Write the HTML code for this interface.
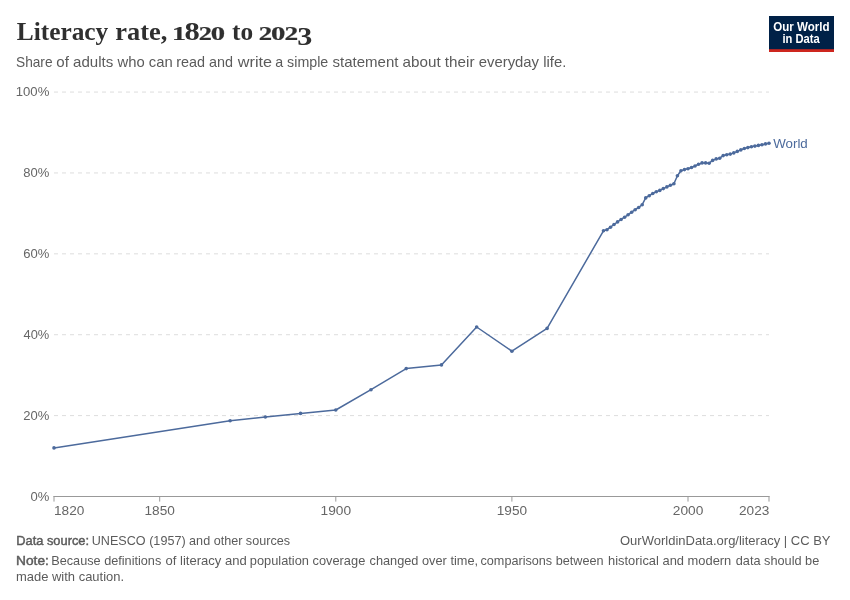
<!DOCTYPE html>
<html lang="en"><head><meta charset="utf-8"><title>Literacy rate, 1820 to 2023</title>
<style>
html,body{margin:0;padding:0;background:#fff;}
svg{display:block;font-family:"Liberation Sans",sans-serif;}
.title{font-family:"Liberation Serif",serif;font-weight:bold;font-size:26px;fill:#2f2f2f;}
.os{font-size:18.2px;stroke:#2f2f2f;stroke-width:0.2px;}
.sub{font-size:14.3px;fill:#5b5b5b;}
.ax text{font-size:13.6px;fill:#666;}
.world{font-size:13.2px;fill:#4c6a9c;}
.foot{font-size:12.7px;fill:#5b5b5b;}
.b{stroke:#5b5b5b;stroke-width:0.45px;}
.logo text{font-size:12.2px;font-weight:bold;fill:#fff;}
</style></head><body>
<svg width="850" height="600" viewBox="0 0 850 600">
<rect width="850" height="600" fill="#fff"/>
<text class="title" y="40.1"><tspan x="16.75" textLength="91.51" lengthAdjust="spacingAndGlyphs">Literacy</tspan> <tspan x="115.25" textLength="52.06" lengthAdjust="spacingAndGlyphs">rate,</tspan> <tspan class="os" x="172.0" textLength="13.89" lengthAdjust="spacingAndGlyphs">1</tspan><tspan x="184.5" textLength="15.27" lengthAdjust="spacingAndGlyphs">8</tspan><tspan class="os" x="198.75" textLength="13.14" lengthAdjust="spacingAndGlyphs">2</tspan><tspan class="os" x="210.75" textLength="14.34" lengthAdjust="spacingAndGlyphs">0</tspan> <tspan x="232.0" textLength="21.1" lengthAdjust="spacingAndGlyphs">to</tspan> <tspan class="os" x="258.75" textLength="13.38" lengthAdjust="spacingAndGlyphs">2</tspan><tspan class="os" x="271.0" textLength="14.35" lengthAdjust="spacingAndGlyphs">0</tspan><tspan class="os" x="284.5" textLength="13.69" lengthAdjust="spacingAndGlyphs">2</tspan><tspan x="297.25" y="45.4" textLength="15.07" lengthAdjust="spacingAndGlyphs">3</tspan></text>
<text class="sub" y="66.6"><tspan x="16.0" textLength="36.55" lengthAdjust="spacingAndGlyphs">Share</tspan> <tspan x="56.25" textLength="57.02" lengthAdjust="spacingAndGlyphs">of adults</tspan> <tspan x="117.5" textLength="55.27" lengthAdjust="spacingAndGlyphs">who can</tspan> <tspan x="176.25" textLength="56.83" lengthAdjust="spacingAndGlyphs">read and</tspan> <tspan x="237.75" textLength="34.27" lengthAdjust="spacingAndGlyphs">write</tspan> <tspan x="275.25" textLength="53.03" lengthAdjust="spacingAndGlyphs">a simple</tspan> <tspan x="332.5" textLength="66.0" lengthAdjust="spacingAndGlyphs">statement</tspan> <tspan x="402.5" textLength="72.01" lengthAdjust="spacingAndGlyphs">about their</tspan> <tspan x="478.75" textLength="87.55" lengthAdjust="spacingAndGlyphs">everyday life.</tspan></text>
<g class="logo">
<rect x="769" y="16" width="65" height="36" fill="#002147"/>
<rect x="769" y="49.2" width="65" height="2.8" fill="#ce261e"/>
<text x="773.25" y="31.3" textLength="56.28" lengthAdjust="spacingAndGlyphs">Our World</text>
<text x="782.5" y="43.3" textLength="37.27" lengthAdjust="spacingAndGlyphs">in Data</text>
</g>
<g stroke="#ddd" stroke-width="1" stroke-dasharray="4,4" fill="none"><line x1="54" x2="769" y1="415.61" y2="415.61"/><line x1="54" x2="769" y1="334.72" y2="334.72"/><line x1="54" x2="769" y1="253.83" y2="253.83"/><line x1="54" x2="769" y1="172.94" y2="172.94"/><line x1="54" x2="769" y1="92.05" y2="92.05"/></g>
<g stroke="#999" stroke-width="1" fill="none"><line x1="53.5" x2="769.5" y1="496.5" y2="496.5"/><line x1="54.0" x2="54.0" y1="496" y2="501.6"/><line x1="159.7" x2="159.7" y1="496" y2="501.6"/><line x1="335.8" x2="335.8" y1="496" y2="501.6"/><line x1="511.9" x2="511.9" y1="496" y2="501.6"/><line x1="688.0" x2="688.0" y1="496" y2="501.6"/><line x1="769.0" x2="769.0" y1="496" y2="501.6"/></g>
<g class="ax">
<text x="15.75" y="96.2" textLength="33.58" lengthAdjust="spacingAndGlyphs">100%</text>
<text x="23.25" y="177.1" textLength="26.04" lengthAdjust="spacingAndGlyphs">80%</text>
<text x="23.25" y="258.0" textLength="26.05" lengthAdjust="spacingAndGlyphs">60%</text>
<text x="23.5" y="338.9" textLength="25.77" lengthAdjust="spacingAndGlyphs">40%</text>
<text x="23.25" y="419.8" textLength="26.05" lengthAdjust="spacingAndGlyphs">20%</text>
<text x="30.5" y="500.7" textLength="18.81" lengthAdjust="spacingAndGlyphs">0%</text>
<text x="54.0" y="514.9" textLength="30.32" lengthAdjust="spacingAndGlyphs">1820</text>
<text x="144.5" y="514.9" textLength="30.33" lengthAdjust="spacingAndGlyphs">1850</text>
<text x="320.5" y="514.9" textLength="30.58" lengthAdjust="spacingAndGlyphs">1900</text>
<text x="496.75" y="514.9" textLength="30.33" lengthAdjust="spacingAndGlyphs">1950</text>
<text x="672.75" y="514.9" textLength="30.56" lengthAdjust="spacingAndGlyphs">2000</text>
<text x="739.0" y="514.9" textLength="30.31" lengthAdjust="spacingAndGlyphs">2023</text>
</g>
<path d="M54.0,447.9 L230.11,420.8 L265.33,417.0 L300.55,413.4 L335.77,410.0 L371.0,389.7 L406.22,368.6 L441.44,364.9 L476.66,327.0 L511.88,351.2 L547.1,328.4 L603.46,230.8 L606.98,229.7 L610.5,227.2 L614.02,224.5 L617.55,221.9 L621.07,219.5 L624.59,217.2 L628.11,214.8 L631.64,212.2 L635.16,209.7 L638.68,207.5 L642.2,204.7 L645.72,197.9 L649.25,195.7 L652.77,193.5 L656.29,191.7 L659.81,190.4 L663.33,188.6 L666.86,186.9 L670.38,185.3 L673.9,183.7 L677.42,175.7 L680.95,170.8 L684.47,169.6 L687.99,168.7 L691.51,167.5 L695.03,166.0 L698.56,164.3 L702.08,162.9 L705.6,162.9 L709.12,163.2 L712.65,160.4 L716.17,158.9 L719.69,158.2 L723.21,155.6 L726.73,154.7 L730.26,154.1 L733.78,152.9 L737.3,151.4 L740.82,149.9 L744.34,148.5 L747.87,147.6 L751.39,146.8 L754.91,146.1 L758.43,145.4 L761.96,144.7 L765.48,143.9 L769.0,143.2" fill="none" stroke="#4c6a9c" stroke-width="1.5" stroke-linejoin="round" stroke-linecap="round"/>
<g fill="#4c6a9c"><circle cx="54.0" cy="447.9" r="1.8"/><circle cx="230.11" cy="420.8" r="1.8"/><circle cx="265.33" cy="417.0" r="1.8"/><circle cx="300.55" cy="413.4" r="1.8"/><circle cx="335.77" cy="410.0" r="1.8"/><circle cx="371.0" cy="389.7" r="1.8"/><circle cx="406.22" cy="368.6" r="1.8"/><circle cx="441.44" cy="364.9" r="1.8"/><circle cx="476.66" cy="327.0" r="1.8"/><circle cx="511.88" cy="351.2" r="1.8"/><circle cx="547.1" cy="328.4" r="1.8"/><circle cx="603.46" cy="230.8" r="1.8"/><circle cx="606.98" cy="229.7" r="1.8"/><circle cx="610.5" cy="227.2" r="1.8"/><circle cx="614.02" cy="224.5" r="1.8"/><circle cx="617.55" cy="221.9" r="1.8"/><circle cx="621.07" cy="219.5" r="1.8"/><circle cx="624.59" cy="217.2" r="1.8"/><circle cx="628.11" cy="214.8" r="1.8"/><circle cx="631.64" cy="212.2" r="1.8"/><circle cx="635.16" cy="209.7" r="1.8"/><circle cx="638.68" cy="207.5" r="1.8"/><circle cx="642.2" cy="204.7" r="1.8"/><circle cx="645.72" cy="197.9" r="1.8"/><circle cx="649.25" cy="195.7" r="1.8"/><circle cx="652.77" cy="193.5" r="1.8"/><circle cx="656.29" cy="191.7" r="1.8"/><circle cx="659.81" cy="190.4" r="1.8"/><circle cx="663.33" cy="188.6" r="1.8"/><circle cx="666.86" cy="186.9" r="1.8"/><circle cx="670.38" cy="185.3" r="1.8"/><circle cx="673.9" cy="183.7" r="1.8"/><circle cx="677.42" cy="175.7" r="1.8"/><circle cx="680.95" cy="170.8" r="1.8"/><circle cx="684.47" cy="169.6" r="1.8"/><circle cx="687.99" cy="168.7" r="1.8"/><circle cx="691.51" cy="167.5" r="1.8"/><circle cx="695.03" cy="166.0" r="1.8"/><circle cx="698.56" cy="164.3" r="1.8"/><circle cx="702.08" cy="162.9" r="1.8"/><circle cx="705.6" cy="162.9" r="1.8"/><circle cx="709.12" cy="163.2" r="1.8"/><circle cx="712.65" cy="160.4" r="1.8"/><circle cx="716.17" cy="158.9" r="1.8"/><circle cx="719.69" cy="158.2" r="1.8"/><circle cx="723.21" cy="155.6" r="1.8"/><circle cx="726.73" cy="154.7" r="1.8"/><circle cx="730.26" cy="154.1" r="1.8"/><circle cx="733.78" cy="152.9" r="1.8"/><circle cx="737.3" cy="151.4" r="1.8"/><circle cx="740.82" cy="149.9" r="1.8"/><circle cx="744.34" cy="148.5" r="1.8"/><circle cx="747.87" cy="147.6" r="1.8"/><circle cx="751.39" cy="146.8" r="1.8"/><circle cx="754.91" cy="146.1" r="1.8"/><circle cx="758.43" cy="145.4" r="1.8"/><circle cx="761.96" cy="144.7" r="1.8"/><circle cx="765.48" cy="143.9" r="1.8"/><circle cx="769.0" cy="143.2" r="1.8"/></g>
<text class="world" x="773.25" y="147.7" textLength="34.53" lengthAdjust="spacingAndGlyphs">World</text>
<g class="foot">
<text class="b" x="16.25" y="545" textLength="72.79" lengthAdjust="spacingAndGlyphs">Data source:</text>
<text x="91.75" y="545" textLength="198.26" lengthAdjust="spacingAndGlyphs">UNESCO (1957) and other sources</text>
<text x="620.0" y="545" textLength="210.5" lengthAdjust="spacingAndGlyphs">OurWorldinData.org/literacy | CC BY</text>
<text y="565.2"><tspan class="b" x="16.0" textLength="32.86" lengthAdjust="spacingAndGlyphs">Note:</tspan> <tspan x="51.25" textLength="110.02" lengthAdjust="spacingAndGlyphs">Because definitions</tspan> <tspan x="165.5" textLength="81.27" lengthAdjust="spacingAndGlyphs">of literacy and</tspan> <tspan x="249.75" textLength="115.52" lengthAdjust="spacingAndGlyphs">population coverage</tspan> <tspan x="369.5" textLength="108.53" lengthAdjust="spacingAndGlyphs">changed over time,</tspan> <tspan x="480.5" textLength="123.01" lengthAdjust="spacingAndGlyphs">comparisons between</tspan> <tspan x="608.0" textLength="123.28" lengthAdjust="spacingAndGlyphs">historical and modern</tspan> <tspan x="735.75" textLength="83.52" lengthAdjust="spacingAndGlyphs">data should be</tspan></text>
<text x="16.0" y="580.5" textLength="108.04" lengthAdjust="spacingAndGlyphs">made with caution.</text>
</g>
</svg>
</body></html>
